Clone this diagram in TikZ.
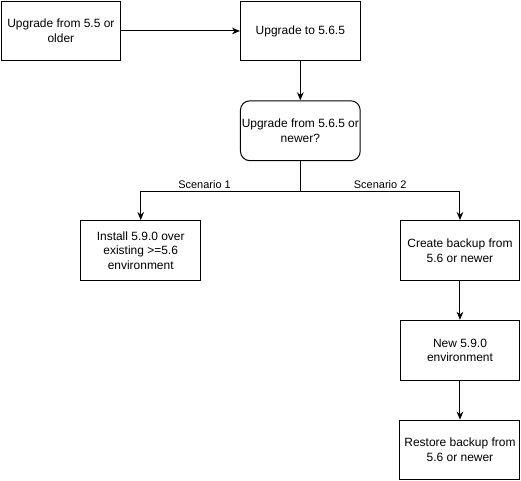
\documentclass[tikz,border=0pt]{standalone}
\usepackage{fontspec}
\setmainfont{Liberation Sans}
\usepackage{tikz}
\usetikzlibrary{calc,arrows.meta}
\tikzstyle{process} = [rectangle, draw, text centered, align=center, line width=0.75pt, minimum width=90pt, minimum height=45pt, font=\fontsize{9}{11}\selectfont]
\tikzstyle{question} = [process, rounded corners=7pt, inner xsep=0pt]
\tikzstyle{connector} = [line width=0.75pt, -{Stealth[length=6pt,width=5pt]}]
\tikzstyle{branchlabel} = [above, inner sep=1.5pt, font=\fontsize{8.25}{10}\selectfont]

\begin{document}
\begin{tikzpicture}[node distance=75pt]
        \node (from-old) [process] {Upgrade from 5.5 or\\older};
        \node (to-565) [process, right of = from-old, xshift = 105pt] {Upgrade to 5.6.5};
        \node (from-565) [question, below of = to-565] {Upgrade from 5.6.5 or\\newer?};
        \node (install) [process, below of = from-565, yshift = -15pt, xshift = -120pt] {Install 5.9.0 over\\existing >=5.6\\environment};
        \node (backup) [process, below of = from-565, yshift = -15pt, xshift = 120pt] {Create backup from\\5.6 or newer};
        \node (new-env) [process, below of = backup] {New 5.9.0\\environment};
        \node (restore) [process, below of = new-env] {Restore backup from\\5.6 or newer};
        \draw [connector] (from-old) -- (to-565);
        \draw [connector] (to-565) -- (from-565);
        \draw [line width=0.75pt] (from-565.south) -- ++(0,-22.5pt) coordinate (split);
        \draw [connector] (split) -| node[branchlabel, pos=0.3] {Scenario 1} (install.north);
        \draw [connector] (split) -| node[branchlabel, pos=0.25] {Scenario 2} (backup.north);
        \draw [connector] (backup) -- (new-env);
        \draw [connector] (new-env) -- (restore);
        \useasboundingbox ($(from-old.north west)+(-0.4pt,0.4pt)$) rectangle ($(restore.south east)+(0.4pt,-0.4pt)$);
    \end{tikzpicture}
\end{document}
